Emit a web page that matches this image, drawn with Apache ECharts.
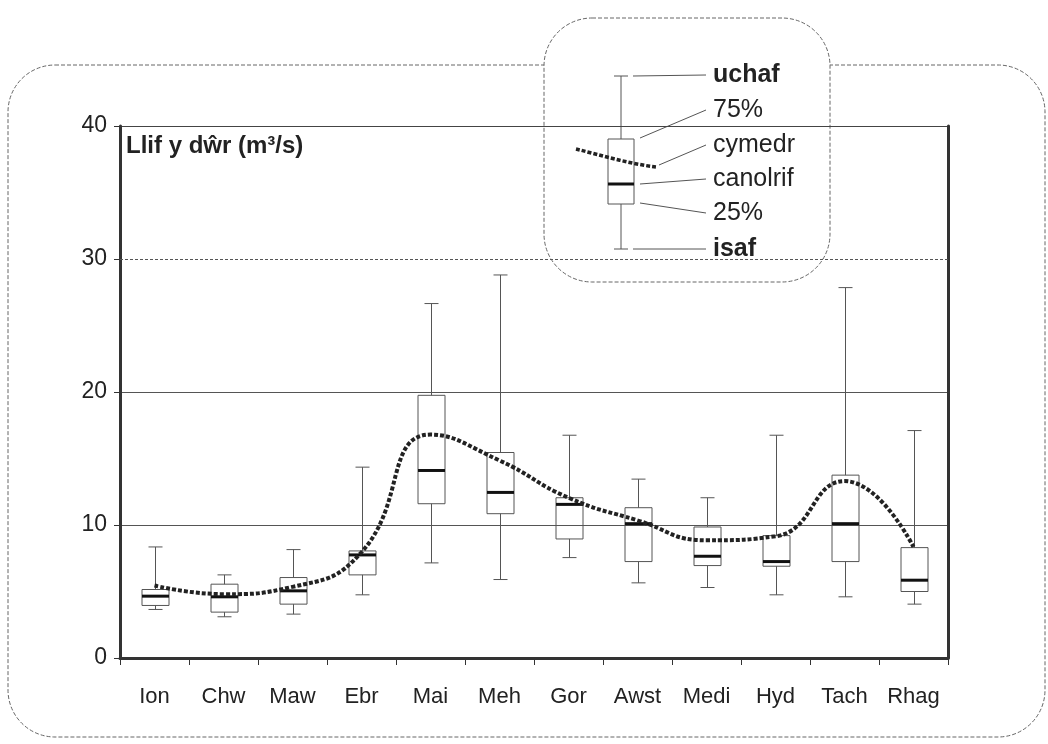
<!DOCTYPE html>
<html><head><meta charset="utf-8">
<script src="https://cdn.jsdelivr.net/npm/echarts@6/dist/echarts.min.js"></script>
<style>html,body{margin:0;padding:0;background:#fff}#c{width:1048px;height:744px}</style>
</head><body><div id="c"></div>
<script>
const categories = ['Ion','Chw','Maw','Ebr','Mai','Meh','Gor','Awst','Medi','Hyd','Tach','Rhag'];
const minValues    = [3.65, 3.1, 3.3, 4.75, 7.15, 5.9, 7.55, 5.65, 5.3, 4.75, 4.6, 4.05];
const q1Values     = [3.95, 3.45, 4.05, 6.25, 11.6, 10.85, 8.95, 7.25, 6.95, 6.9, 7.25, 5.0];
const medianValues = [4.65, 4.6, 5.05, 7.75, 14.1, 12.45, 11.55, 10.1, 7.65, 7.25, 10.1, 5.85];
const q3Values     = [5.15, 5.55, 6.05, 8.05, 19.75, 15.45, 12.05, 11.3, 9.85, 9.2, 13.75, 8.3];
const maxValues    = [8.35, 6.25, 8.15, 14.35, 26.65, 28.8, 16.75, 13.45, 12.05, 16.75, 27.85, 17.1];
const meanValues   = [5.45, 4.8, 5.35, 7.95, 16.8, 14.85, 12.05, 10.35, 8.85, 9.15, 13.3, 8.35];
const yMin = 0, yMax = 40, yStep = 10;
const legendLabels = ['uchaf','75%','cymedr','canolrif','25%','isaf'];
const titleText = 'Llif y dŵr (m³/s)';

const FONT = '"Liberation Sans", Arial, sans-serif';
const chart = echarts.init(document.getElementById('c'), null, {renderer:'canvas'});

const boxData = categories.map((c,i)=>[i, minValues[i], q1Values[i], medianValues[i], q3Values[i], maxValues[i]]);

const BW = 27, CW = 14;
function renderBox(params, api){
  const i = api.value(0);
  const pMin = api.coord([i, api.value(1)]);
  const pQ1 = api.coord([i, api.value(2)]);
  const pMed = api.coord([i, api.value(3)]);
  const pQ3 = api.coord([i, api.value(4)]);
  const pMax = api.coord([i, api.value(5)]);
  const x = Math.round(pMin[0]) + 0.5;
  const st = {stroke:'#555', lineWidth:1, fill:null};
  return {type:'group', children:[
    {type:'line', shape:{x1:x,y1:pMax[1],x2:x,y2:pQ3[1]}, style:st},
    {type:'line', shape:{x1:x,y1:pQ1[1],x2:x,y2:pMin[1]}, style:st},
    {type:'line', shape:{x1:x-CW/2,y1:pMax[1],x2:x+CW/2,y2:pMax[1]}, style:st},
    {type:'line', shape:{x1:x-CW/2,y1:pMin[1],x2:x+CW/2,y2:pMin[1]}, style:st},
    {type:'rect', shape:{x:x-BW/2, y:pQ3[1], width:BW, height:pQ1[1]-pQ3[1]}, style:{stroke:'#555', lineWidth:1, fill:'rgba(255,255,255,0)'}},
    {type:'line', shape:{x1:x-BW/2,y1:pMed[1],x2:x+BW/2,y2:pMed[1]}, style:{stroke:'#111', lineWidth:3}}
  ]};
}

// legend geometry (decorative key)
const LX = 621, LT = 76, LQ3 = 139, LMED = 184, LQ1 = 204, LB = 249;
const textYs = [75, 110, 145, 179, 213, 249];
const leaderFrom = [[633,76],[640,138],[659,165],[640,184],[640,203],[633,249]];
const legendChildren = [
  {type:'rect', shape:{x:544, y:18, width:286, height:264, r:48}, style:{fill:'#fff', stroke:'#666', lineWidth:1, lineDash:[4,2]}},
  {type:'line', shape:{x1:LX,y1:LT,x2:LX,y2:LQ3}, style:{stroke:'#555', lineWidth:1}},
  {type:'line', shape:{x1:LX,y1:LQ1,x2:LX,y2:LB}, style:{stroke:'#555', lineWidth:1}},
  {type:'line', shape:{x1:LX-7,y1:LT,x2:LX+7,y2:LT}, style:{stroke:'#555', lineWidth:1}},
  {type:'line', shape:{x1:LX-7,y1:LB,x2:LX+7,y2:LB}, style:{stroke:'#555', lineWidth:1}},
  {type:'rect', shape:{x:LX-13, y:LQ3, width:26, height:LQ1-LQ3}, style:{fill:'#fff', stroke:'#555', lineWidth:1}},
  {type:'line', shape:{x1:LX-13,y1:LMED,x2:LX+13,y2:LMED}, style:{stroke:'#111', lineWidth:3}},
  {type:'bezierCurve', shape:{x1:576,y1:149,cpx1:600,cpy1:155,cpx2:630,cpy2:164,x2:656,y2:167}, style:{stroke:'#222', lineWidth:3.5, lineDash:[4,2], fill:null}}
];
legendLabels.forEach((t,k)=>{
  legendChildren.push({type:'line', shape:{x1:leaderFrom[k][0], y1:leaderFrom[k][1], x2:706, y2:textYs[k]}, style:{stroke:'#555', lineWidth:1}});
  legendChildren.push({type:'text', x:713, y:textYs[k], style:{text:t, font:(k===0||k===5?'bold ':'')+'25px '+FONT, fill:'#222', textVerticalAlign:'middle', verticalAlign:'middle'}});
});

const option = {
  backgroundColor:'#fff',
  animation:false,
  grid:{left:120, right:100, top:126, bottom:86, containLabel:false},
  xAxis:{
    type:'category', data:categories, boundaryGap:true,
    axisLine:{show:true, lineStyle:{color:'#333', width:3}},
    axisTick:{show:true, length:7, lineStyle:{color:'#333', width:1}},
    axisLabel:{color:'#222', fontSize:22, fontFamily:FONT, margin:28, interval:0},
    splitLine:{show:false}
  },
  yAxis:[{
    type:'value', min:yMin, max:yMax, interval:yStep,
    axisLine:{show:true, lineStyle:{color:'#333', width:3}},
    axisTick:{show:true, length:6, lineStyle:{color:'#333', width:1}},
    axisLabel:{color:'#222', fontSize:23, fontFamily:FONT, margin:13},
    splitLine:{show:true, lineStyle:{color:['rgba(0,0,0,0)','#555','#555','rgba(0,0,0,0)','#444'], width:1}}
  },{
    type:'value', min:yMin, max:yMax, interval:yStep, position:'right',
    axisLine:{show:true, lineStyle:{color:'#333', width:3}},
    axisTick:{show:false}, axisLabel:{show:false}, splitLine:{show:false}
  }],
  graphic:[
    {type:'rect', z:-10, shape:{x:8, y:65, width:1037, height:672, r:47}, style:{fill:'none', stroke:'#666', lineWidth:1, lineDash:[4,2]}},
    {type:'text', z:50, x:126, y:146, style:{text:titleText, font:'bold 24px '+FONT, fill:'#222', verticalAlign:'middle', textVerticalAlign:'middle'}},
    {type:'group', z:100, children:legendChildren}
  ],
  series:[
    {type:'custom', name:'box', renderItem:renderBox, data:boxData, encode:{x:0, y:[1,2,3,4,5]}, z:3,
     markLine:{silent:true, symbol:['none','none'], label:{show:false}, lineStyle:{color:'#555', width:1, type:[3,2]}, data:[{yAxis:30}]}},
    {type:'line', name:'mean', data:meanValues, smooth:0.5, showSymbol:false, symbol:'none', z:5,
     lineStyle:{color:'#222', width:4, type:[4,2]}}
  ]
};
chart.setOption(option);
</script></body></html>
